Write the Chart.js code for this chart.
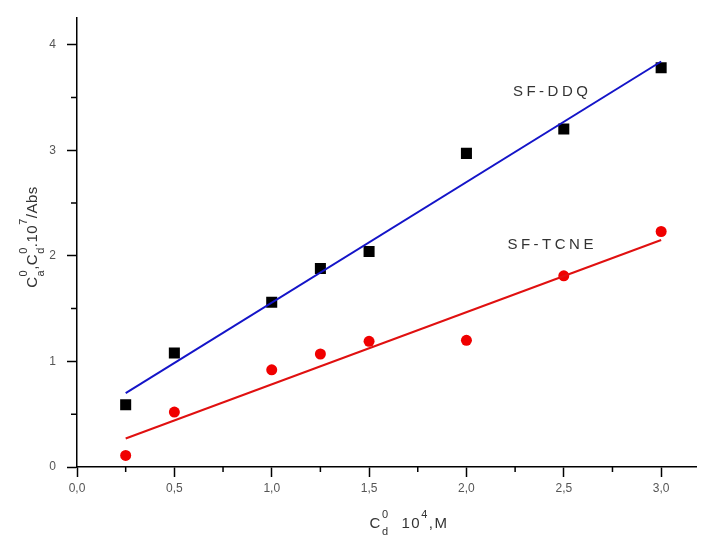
<!DOCTYPE html>
<html lang="en">
<head>
    <meta charset="UTF-8">
    <title>SF-DDQ / SF-TCNE</title>
    <script src="https://cdn.jsdelivr.net/npm/chart.js"></script>
    <style>
        body {
            margin: 0;
            padding: 0;
            background: #ffffff;
        }
        #wrap {
            width: 704px;
            height: 539px;
        }
    </style>
</head>
<body>
    <div id="wrap"><canvas id="plot"></canvas></div>
    <script>
        // concentration values (x axis, 10^4 M)
        const conc = [0.25, 0.5, 1.0, 1.25, 1.5, 2.0, 2.5, 3.0];
        // measured points
        const ddqValues = [0.59, 1.08, 1.56, 1.88, 2.04, 2.97, 3.20, 3.78];
        const tcneValues = [0.11, 0.52, 0.92, 1.07, 1.19, 1.20, 1.81, 2.23];
        // fitted straight lines, ends only
        const fitX = [0.25, 3.0];
        const ddqFit = [0.70, 3.84];
        const tcneFit = [0.27, 2.15];
        // axis ticks
        const xTicks = [0, 0.5, 1.0, 1.5, 2.0, 2.5, 3.0];
        const xMinor = [0.25, 0.75, 1.25, 1.75, 2.25, 2.75];
        const yTicks = [0, 1, 2, 3, 4];
        const yMinor = [0.5, 1.5, 2.5, 3.5];
        // series labels and where they sit
        const seriesLabels = [
            { text: "SF-DDQ", x: 2.43, y: 3.55 },
            { text: "SF-TCNE", x: 2.43, y: 2.10 }
        ];

        const toPoints = (xs, ys) => xs.map((x, i) => ({ x: x, y: ys[i] }));
        const comma = v => v.toFixed(1).replace(".", ",");
        const FONT = "'Liberation Sans', Arial, sans-serif";
        const hasSpacing = "letterSpacing" in CanvasRenderingContext2D.prototype;

        // draw text made of normal / superscript / subscript pieces, centred on (cx, cy)
        function drawRich(ctx, parts, cx, cy, size, spacing) {
            const small = Math.round(size * 0.7);
            if (hasSpacing) ctx.letterSpacing = spacing + "px";
            let width = 0;
            const widths = parts.map(p => {
                ctx.font = (p.s ? small : size) + "px " + FONT;
                let w = ctx.measureText(p.t).width;
                if (p.b) w = Math.max(w, ctx.measureText(p.b).width);
                width += w + (p.gap || 0);
                return w;
            });
            let x = cx - width / 2;
            ctx.textBaseline = "middle";
            ctx.textAlign = "left";
            parts.forEach((p, i) => {
                if (p.s) {
                    ctx.font = small + "px " + FONT;
                    ctx.fillText(p.t, x, cy - size * 0.6);
                    if (p.b) ctx.fillText(p.b, x, cy + size * 0.55);
                } else {
                    ctx.font = size + "px " + FONT;
                    ctx.fillText(p.t, x, cy);
                }
                x += widths[i] + (p.gap || 0);
            });
            if (hasSpacing) ctx.letterSpacing = "0px";
        }

        const decorations = {
            id: "decorations",
            afterDraw(chart) {
                const ctx = chart.ctx;
                const xs = chart.scales.x;
                const ys = chart.scales.y;
                const area = chart.chartArea;
                ctx.save();

                // minor ticks
                ctx.strokeStyle = "#000";
                ctx.lineWidth = 1.5;
                ctx.beginPath();
                xMinor.forEach(v => {
                    const px = xs.getPixelForValue(v);
                    ctx.moveTo(px, area.bottom);
                    ctx.lineTo(px, area.bottom + 5);
                });
                yMinor.forEach(v => {
                    const py = ys.getPixelForValue(v);
                    ctx.moveTo(area.left, py);
                    ctx.lineTo(area.left - 6, py);
                });
                ctx.stroke();

                // series names
                ctx.fillStyle = "#333";
                ctx.font = "15px " + FONT;
                ctx.textAlign = "center";
                ctx.textBaseline = "middle";
                if (hasSpacing) ctx.letterSpacing = "3.5px";
                seriesLabels.forEach(l => {
                    ctx.fillText(l.text, xs.getPixelForValue(l.x) + 2, ys.getPixelForValue(l.y));
                });
                if (hasSpacing) ctx.letterSpacing = "0px";

                // axis titles
                ctx.fillStyle = "#333";
                drawRich(ctx, [
                    { t: "C" },
                    { t: "0", b: "d", s: true, gap: 12 },
                    { t: "10" },
                    { t: "4", s: true },
                    { t: ",M" }
                ], 409, 524, 15, 1.5);

                ctx.translate(33, 237);
                ctx.rotate(-Math.PI / 2);
                drawRich(ctx, [
                    { t: "C" },
                    { t: "0", b: "a", s: true },
                    { t: "," },
                    { t: "C" },
                    { t: "0", b: "d", s: true },
                    { t: ".10" },
                    { t: "7", s: true },
                    { t: "/Abs" }
                ], 0, 0, 15, 0.5);
                ctx.restore();
            }
        };

        const useTicks = list => scale => {
            scale.ticks = list.map(v => ({ value: v }));
        };

        new Chart(document.getElementById("plot"), {
            type: "scatter",
            data: {
                datasets: [
                    {
                        label: "SF-DDQ fit",
                        data: toPoints(fitX, ddqFit),
                        showLine: true,
                        borderColor: "#1414c8",
                        borderWidth: 2,
                        pointRadius: 0
                    },
                    {
                        label: "SF-TCNE fit",
                        data: toPoints(fitX, tcneFit),
                        showLine: true,
                        borderColor: "#e01010",
                        borderWidth: 2,
                        pointRadius: 0
                    },
                    {
                        label: "SF-DDQ",
                        data: toPoints(conc, ddqValues),
                        pointStyle: "rect",
                        pointRadius: 7.8,
                        backgroundColor: "#000",
                        borderColor: "#000",
                        borderWidth: 0
                    },
                    {
                        label: "SF-TCNE",
                        data: toPoints(conc, tcneValues),
                        pointStyle: "circle",
                        pointRadius: 5.5,
                        backgroundColor: "#f00000",
                        borderColor: "#f00000",
                        borderWidth: 0
                    }
                ]
            },
            options: {
                responsive: true,
                maintainAspectRatio: false,
                animation: false,
                layout: { padding: { top: 12, right: 4, left: 0, bottom: 0 } },
                plugins: {
                    legend: { display: false },
                    tooltip: { enabled: false }
                },
                scales: {
                    x: {
                        type: "linear",
                        min: 0,
                        max: 3.18,
                        afterBuildTicks: useTicks(xTicks),
                        afterFit: scale => { scale.height = 72; },
                        border: { color: "#000", width: 1.5 },
                        grid: { drawOnChartArea: false, tickLength: 10, tickColor: "#000", tickWidth: 1.5 },
                        ticks: {
                            padding: 4,
                            color: "#555",
                            font: { family: FONT, size: 12 },
                            callback: v => comma(v)
                        }
                    },
                    y: {
                        type: "linear",
                        min: 0,
                        max: 4.25,
                        afterBuildTicks: useTicks(yTicks),
                        afterFit: scale => { scale.width = 77; },
                        border: { color: "#000", width: 1.5 },
                        grid: { drawOnChartArea: false, tickLength: 10, tickColor: "#000", tickWidth: 1.5 },
                        ticks: {
                            padding: 11,
                            color: "#555",
                            font: { family: FONT, size: 12 },
                            callback: v => String(v)
                        }
                    }
                }
            },
            plugins: [decorations]
        });
    </script>
</body>
</html>
